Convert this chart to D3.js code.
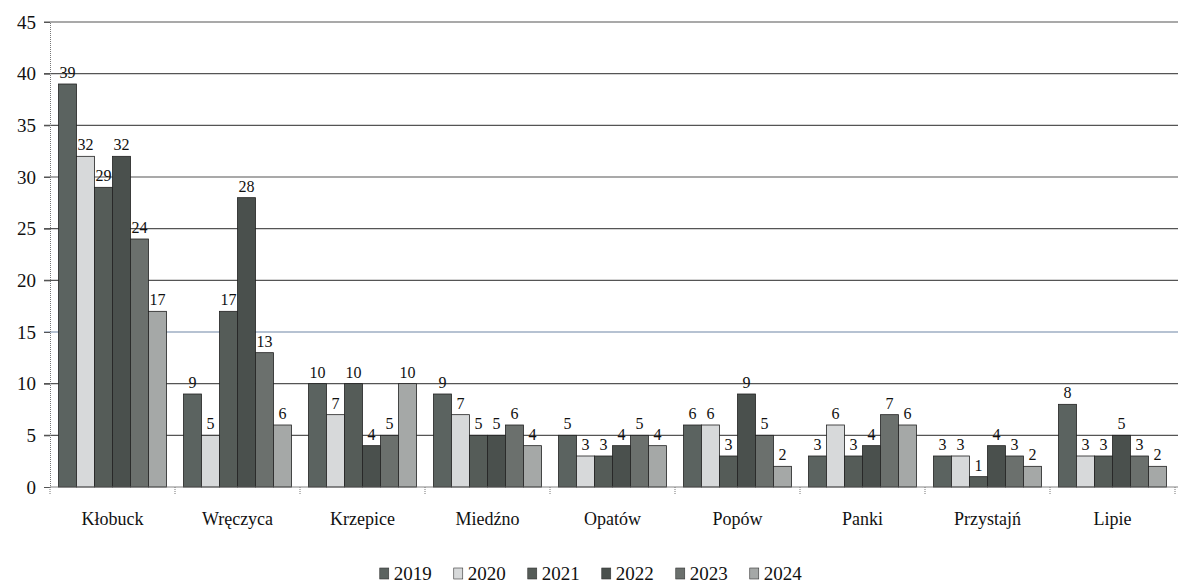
<!DOCTYPE html>
<html>
<head>
<meta charset="utf-8">
<script src="https://cdn.jsdelivr.net/npm/d3@7"></script>
<style>
  body { margin: 0; background: #fff; }
</style>
</head>
<body>
<div id="chart"></div>
<script>
// gminy i lata
var categories = ["Kłobuck", "Wręczyca", "Krzepice", "Miedźno", "Opatów", "Popów", "Panki", "Przystajń", "Lipie"];
var years = ["2019", "2020", "2021", "2022", "2023", "2024"];

var v2019 = [39, 9, 10, 9, 5, 6, 3, 3, 8];
var v2020 = [32, 5, 7, 7, 3, 6, 6, 3, 3];
var v2021 = [29, 17, 10, 5, 3, 3, 3, 1, 3];
var v2022 = [32, 28, 4, 5, 4, 9, 4, 4, 5];
var v2023 = [24, 13, 5, 6, 5, 5, 7, 3, 3];
var v2024 = [17, 6, 10, 4, 4, 2, 6, 2, 2];
var series = [v2019, v2020, v2021, v2022, v2023, v2024];

var yTicks = [0, 5, 10, 15, 20, 25, 30, 35, 40, 45];
var colors = ["#5b6360", "#d7d9da", "#555c58", "#4a504d", "#6b706d", "#a5a8a7"];

var FONT = "'Liberation Serif', 'Times New Roman', 'DejaVu Serif', 'Noto Serif', serif";

var W = 1178, H = 585;
var margin = { left: 50, right: 3, top: 22, bottom: 98 };

var svg = d3.select("#chart")
    .append("svg")
    .attr("width", W)
    .attr("height", H)
    .attr("font-family", FONT);

var x0 = d3.scaleBand()
    .domain(categories)
    .range([margin.left, W - margin.right])
    .paddingInner(0.136)
    .paddingOuter(0.068);

var x1 = d3.scaleBand()
    .domain(years)
    .range([0, x0.bandwidth()]);

var y = d3.scaleLinear()
    .domain([0, 45])
    .range([H - margin.bottom, margin.top]);

// siatka
svg.append("g")
    .selectAll("line")
    .data(yTicks.slice(1))
    .join("line")
    .attr("x1", margin.left - 6)
    .attr("x2", W)
    .attr("y1", d => y(d))
    .attr("y2", d => y(d))
    .attr("stroke", d => d == 15 ? "#6f86a6" : "#555")
    .attr("stroke-width", 1.1);

// os Y
var yAxis = svg.append("g")
    .attr("transform", "translate(" + margin.left + ",0)")
    .call(d3.axisLeft(y).tickValues(yTicks).tickSize(6).tickPadding(8));
yAxis.attr("font-family", FONT);
yAxis.select(".domain").attr("stroke", "#777").attr("stroke-dasharray", "1,1");
yAxis.selectAll(".tick line").attr("stroke", "#555");
yAxis.selectAll("text")
    .attr("font-family", FONT)
    .style("font-size", "19px")
    .attr("fill", "#111");

// slupki
var groups = svg.append("g")
    .selectAll("g")
    .data(categories)
    .join("g")
    .attr("transform", d => "translate(" + x0(d) + ",0)");

groups.selectAll("rect")
    .data((c, i) => years.map((yr, k) => ({ year: yr, k: k, value: series[k][i] })))
    .join("rect")
    .attr("x", d => x1(d.year))
    .attr("y", d => y(d.value))
    .attr("width", x1.bandwidth())
    .attr("height", d => y(0) - y(d.value))
    .attr("fill", d => colors[d.k])
    .attr("stroke", "#222")
    .attr("stroke-width", 0.8);

groups.selectAll("text.val")
    .data((c, i) => years.map((yr, k) => ({ year: yr, k: k, value: series[k][i] })))
    .join("text")
    .attr("class", "val")
    .attr("x", d => x1(d.year) + x1.bandwidth() / 2)
    .attr("y", d => y(d.value) - 6)
    .attr("text-anchor", "middle")
    .attr("fill", "#111")
    .style("font-size", "16px")
    .text(d => d.value);

// os X
var bounds = d3.range(categories.length + 1).map(i => margin.left + i * (W - margin.left - margin.right) / categories.length);
svg.append("line")
    .attr("x1", margin.left)
    .attr("x2", W)
    .attr("y1", y(0))
    .attr("y2", y(0))
    .attr("stroke", "#666")
    .attr("stroke-width", 0.8);
svg.append("g")
    .selectAll("line")
    .data(bounds)
    .join("line")
    .attr("x1", d => d)
    .attr("x2", d => d)
    .attr("y1", y(0))
    .attr("y2", y(0) + 8)
    .attr("stroke", "#777")
    .attr("stroke-dasharray", "1,1");

svg.append("g")
    .selectAll("text")
    .data(categories)
    .join("text")
    .attr("x", d => x0(d) + x0.bandwidth() / 2)
    .attr("y", y(0) + 38)
    .attr("text-anchor", "middle")
    .attr("fill", "#111")
    .style("font-size", "18px")
    .text(d => d);

// legenda
var legend = svg.append("g");
var lx = 0;
var items = legend.selectAll("g")
    .data(years)
    .join("g");
items.append("rect")
    .attr("width", 9)
    .attr("height", 11)
    .attr("y", -12)
    .attr("fill", (d, i) => colors[i])
    .attr("stroke", "#333")
    .attr("stroke-width", 0.6);
items.append("text")
    .attr("x", 14)
    .attr("fill", "#111")
    .style("font-size", "19px")
    .text(d => d);
items.each(function () {
    var w = this.getBBox().width;
    d3.select(this).attr("transform", "translate(" + lx + ",0)");
    lx += w + 22;
});
legend.attr("transform", "translate(" + (W / 2 + 2 - (lx - 22) / 2) + ",580)");
</script>
</body>
</html>
